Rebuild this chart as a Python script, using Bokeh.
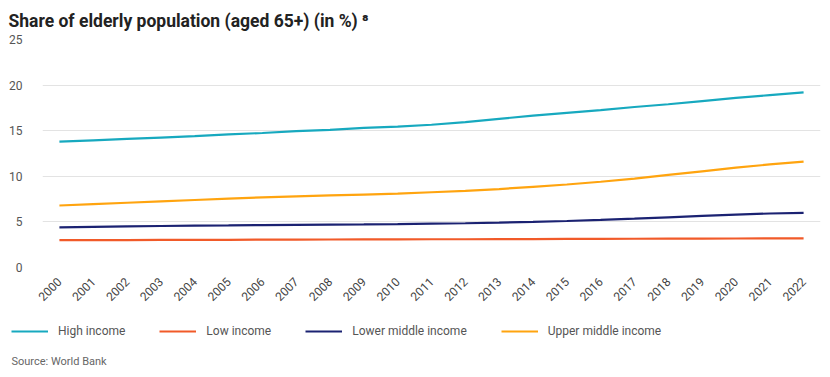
import math
from bokeh.plotting import figure
from bokeh.layouts import column
from bokeh.models import Range1d, FactorRange, Legend, LegendItem, Label
from bokeh.embed import file_html
from bokeh.resources import INLINE

years = [str(y) for y in range(2000, 2023)]
high_income = [13.8, 13.95, 14.1, 14.25, 14.4, 14.6, 14.75, 14.95, 15.1, 15.3, 15.45, 15.65,
               15.95, 16.3, 16.65, 16.95, 17.25, 17.6, 17.9, 18.25, 18.6, 18.9, 19.2]
low_income = [3.0, 3.0, 3.0, 3.02, 3.03, 3.04, 3.05, 3.06, 3.07, 3.08, 3.09, 3.1,
              3.1, 3.11, 3.12, 3.13, 3.14, 3.15, 3.16, 3.17, 3.18, 3.19, 3.2]
lower_middle = [4.4, 4.45, 4.5, 4.55, 4.6, 4.62, 4.65, 4.68, 4.7, 4.72, 4.75, 4.8,
                4.85, 4.92, 5.0, 5.1, 5.22, 5.35, 5.5, 5.65, 5.8, 5.92, 6.0]
upper_middle = [6.8, 6.95, 7.1, 7.25, 7.4, 7.55, 7.7, 7.8, 7.9, 8.0, 8.1, 8.25,
                8.4, 8.6, 8.85, 9.1, 9.4, 9.75, 10.15, 10.55, 10.95, 11.3, 11.6]
series_names = ["High income", "Low income", "Lower middle income", "Upper middle income"]
colors = ["#17A9BF", "#F15A29", "#1B2272", "#FFA40F"]
y_ticks = [0, 5, 10, 15, 20, 25]
source_text = "Source: World Bank"

FONT = "Roboto"
all_series = [high_income, low_income, lower_middle, upper_middle]

p = figure(width=830, height=310, x_range=FactorRange(*years), y_range=Range1d(0, 25),
           output_backend="svg", toolbar_location=None,
           min_border_left=42, min_border_right=10, min_border_top=39, min_border_bottom=43)
p.frame_align = False
p.outline_line_color = None
p.title.text = "Share of elderly population (aged 65+) (in %) \u2078"
p.title.text_font = FONT
p.title.text_font_size = "17.5px"
p.title.text_font_style = "bold"
p.title.text_color = "#222222"
p.title.offset = -34
p.title.standoff = 17

for vals, c in zip(all_series, colors):
    p.line(years, vals, line_color=c, line_width=2.2)

p.xgrid.grid_line_color = None
p.ygrid.grid_line_color = "#e3e3e3"
p.ygrid.grid_line_width = 1
p.yaxis.ticker = y_ticks
p.yaxis.axis_line_color = None
p.yaxis.major_tick_line_color = None
p.yaxis.minor_tick_line_color = None
p.yaxis.major_label_text_font = FONT
p.yaxis.major_label_text_font_size = "12px"
p.yaxis.major_label_text_color = "#555555"
p.yaxis.major_label_standoff = 14

p.xaxis.axis_line_color = None
p.xaxis.major_tick_line_color = None
p.xaxis.major_label_orientation = math.pi / 4
p.xaxis.major_label_text_font = FONT
p.xaxis.major_label_text_font_size = "12px"
p.xaxis.major_label_text_color = "#444444"
p.xaxis.major_label_standoff = 6

# Legend + source panel
p2 = figure(width=830, height=67, x_range=FactorRange(*years), y_range=Range1d(100, 101),
            output_backend="svg", toolbar_location=None,
            x_axis_location=None, y_axis_location=None,
            min_border_left=0, min_border_right=0, min_border_top=0, min_border_bottom=0)
p2.frame_align = False
p2.outline_line_color = None
p2.grid.grid_line_color = None
leg_renderers = []
for vals, c in zip(all_series, colors):
    leg_renderers.append(p2.line(years, vals, line_color=c, line_width=2.2))

legend = Legend(items=[LegendItem(label=n, renderers=[r]) for n, r in zip(series_names, leg_renderers)],
                orientation="horizontal", location=(11, 38))
legend.label_text_font = FONT
legend.label_text_font_size = "12px"
legend.label_text_color = "#555555"
legend.glyph_width = 37
legend.label_height = 16
legend.glyph_height = 16
legend.label_standoff = 10
legend.spacing = 34
legend.padding = 0
legend.margin = 0
legend.border_line_color = None
legend.background_fill_alpha = 0
p2.add_layout(legend, "center")

src = Label(x=11, y=10, x_units="screen", y_units="screen", text=source_text,
            text_font=FONT, text_font_size="11px", text_color="#666666")
p2.add_layout(src)

open("out.html", "w").write(file_html(column(p, p2, spacing=0), INLINE))
